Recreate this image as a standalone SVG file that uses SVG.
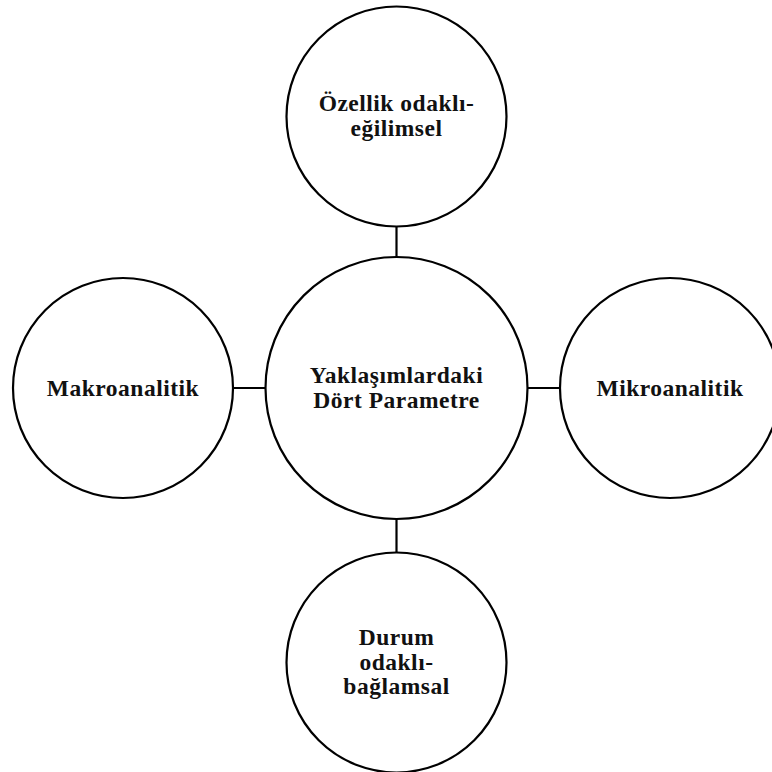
<svg xmlns="http://www.w3.org/2000/svg" width="772" height="772" viewBox="0 0 772 772">
<style>
.n{fill:#fff;stroke:#000;stroke-width:2.2}
.c{stroke:#000;stroke-width:2.2;fill:none}
.t{font-family:"Liberation Serif","Times New Roman",serif;font-weight:bold;font-size:23.5px;letter-spacing:0.5px;text-anchor:middle;fill:#111}
</style>
<rect width="772" height="772" fill="#fff"/>
<g id="connectors">
<line class="c" x1="396.5" y1="226.5" x2="396.5" y2="257"/>
<line class="c" x1="396.5" y1="519" x2="396.5" y2="552.5"/>
<line class="c" x1="233" y1="388" x2="265.5" y2="388"/>
<line class="c" x1="527.5" y1="388" x2="560" y2="388"/>
</g>
<g id="center">
<circle class="n" cx="396.5" cy="388" r="131"/>
<text class="t" x="396.5" y="383.3">Yaklaşımlardaki</text>
<text class="t" x="396.5" y="407.7">Dört Parametre</text>
</g>
<g id="top">
<circle class="n" cx="396.5" cy="116.5" r="110"/>
<text class="t" x="396.5" y="111">Özellik odaklı-</text>
<text class="t" x="396.5" y="136">eğilimsel</text>
</g>
<g id="left">
<circle class="n" cx="123" cy="388" r="110"/>
<text class="t" x="123" y="396">Makroanalitik</text>
</g>
<g id="right">
<circle class="n" cx="670" cy="388" r="110"/>
<text class="t" x="670" y="396">Mikroanalitik</text>
</g>
<g id="bottom">
<circle class="n" cx="396.5" cy="662.5" r="110"/>
<text class="t" x="396.5" y="645">Durum</text>
<text class="t" x="396.5" y="669.5">odaklı-</text>
<text class="t" x="396.5" y="694">bağlamsal</text>
</g>
</svg>
